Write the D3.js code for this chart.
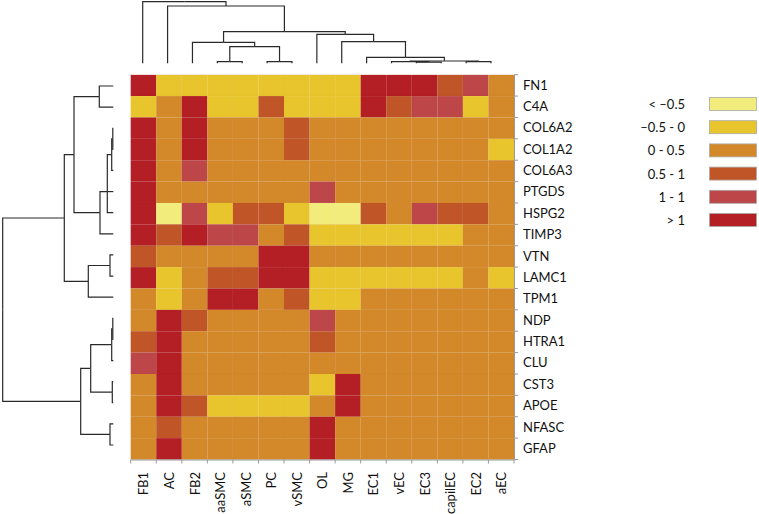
<!DOCTYPE html>
<html>
<head>
<meta charset="utf-8">
<script src="https://cdn.jsdelivr.net/npm/d3@7"></script>
<style>
  html, body { margin: 0; padding: 0; background: #fff; }
  svg { display: block; }
  text { font-family: Lato, "Open Sans", sans-serif; fill: #111; }
</style>
</head>
<body>
<div id="chart"></div>
<script>
// ---------- data ----------
const columns = ["FB1","AC","FB2","aaSMC","aSMC","PC","vSMC","OL","MG","EC1","vEC","EC3","capilEC","EC2","aEC"];
const genes = ["FN1","C4A","COL6A2","COL1A2","COL6A3","PTGDS","HSPG2","TIMP3","VTN","LAMC1","TPM1","NDP","HTRA1","CLU","CST3","APOE","NFASC","GFAP"];
const legendLabels = ["< \u20130.5", "\u20130.5 - 0", "0 - 0.5", "0.5 - 1", "1 - 1", "> 1"];
const legendColors = ["#f1ec7c", "#e8c52c", "#d3892a", "#c05627", "#bd4649", "#b31f25"];
// category index (0..5) per gene row, per column
const levels = [
  [5,1,1,1,1,1,1,1,1,5,5,5,3,4,2], // FN1
  [1,2,5,1,1,3,1,1,1,5,3,4,4,1,2], // C4A
  [5,2,5,2,2,2,3,2,2,2,2,2,2,2,2], // COL6A2
  [5,2,5,2,2,2,3,2,2,2,2,2,2,2,1], // COL1A2
  [5,2,4,2,2,2,2,2,2,2,2,2,2,2,2], // COL6A3
  [5,2,2,2,2,2,2,4,2,2,2,2,2,2,2], // PTGDS
  [5,0,4,1,3,3,1,0,0,3,2,4,3,3,2], // HSPG2
  [5,3,5,4,4,2,3,1,1,1,1,1,1,2,2], // TIMP3
  [3,2,2,2,2,5,5,2,2,2,2,2,2,2,2], // VTN
  [5,1,2,3,3,5,5,1,1,1,1,1,1,2,1], // LAMC1
  [2,1,2,5,5,2,3,1,1,2,2,2,2,2,2], // TPM1
  [2,5,3,2,2,2,2,4,2,2,2,2,2,2,2], // NDP
  [3,5,2,2,2,2,2,3,2,2,2,2,2,2,2], // HTRA1
  [4,5,2,2,2,2,2,2,2,2,2,2,2,2,2], // CLU
  [2,5,2,2,2,2,2,1,5,2,2,2,2,2,2], // CST3
  [2,5,3,1,1,1,1,2,5,2,2,2,2,2,2], // APOE
  [2,3,2,2,2,2,2,5,2,2,2,2,2,2,2], // NFASC
  [2,5,2,2,2,2,2,5,2,2,2,2,2,2,2]  // GFAP
];
// dendrograms: merge heights
const colTree = {h:61.6, c:["FB1", {h:57.3, c:["AC", {h:31.6, c:[
  {h:21, c:["FB2", {h:16.6, c:[{h:1.6, c:["aaSMC","aSMC"]}, {h:1.6, c:["PC","vSMC"]}]}]},
  {h:29, c:["OL", {h:21.6, c:["MG", {h:6, c:["EC1", {h:2.3, c:[
     {h:1.6, c:["vEC", {h:1.2, c:["EC3","capilEC"]}]},
     {h:1.6, c:["EC2","aEC"]}]}]}]}]}
]}]}]};
const rowTree = {h:110.6, c:[
  {h:49, c:[
    {h:39.3, c:[
      {h:14, c:["FN1","C4A"]},
      {h:13.3, c:[
        {h:6, c:[{h:1.6, c:[{h:0.5, c:["COL6A2","COL1A2"]}, "COL6A3"]}, "PTGDS", "HSPG2"]},
        "TIMP3"]}
    ]},
    {h:25, c:[{h:3.3, c:["VTN","LAMC1"]}, "TPM1"]}
  ]},
  {h:32.6, c:[
    {h:22.6, c:[
      {h:1.6, c:[{h:0.5, c:["NDP","HTRA1"]}, "CLU"]},
      {h:1, c:["CST3","APOE"]}
    ]},
    {h:3.3, c:["NFASC","GFAP"]}
  ]}
]};

// ---------- layout ----------
const W = 759, H = 514;
const svg = d3.select("#chart").append("svg").attr("width", W).attr("height", H);

const x = d3.scaleBand().domain(columns).range([130.7, 514]);
const y = d3.scaleBand().domain(genes).range([74.7, 459.5]);
const color = d3.scaleOrdinal().domain(d3.range(6)).range(legendColors);
const FS = 13;

// heatmap cells
const cells = [];
levels.forEach((row, i) => row.forEach((v, j) => cells.push({g: genes[i], c: columns[j], v})));
svg.append("g").selectAll("rect").data(cells).join("rect")
  .attr("x", d => x(d.c)).attr("y", d => y(d.g))
  .attr("width", x.bandwidth()).attr("height", y.bandwidth())
  .attr("fill", d => color(d.v))
  .attr("stroke", "rgba(0,0,0,0.025)").attr("stroke-width", 0.5);

// top faint border
svg.append("line").attr("x1", 130.7).attr("x2", 514).attr("y1", 74.4).attr("y2", 74.4)
  .attr("stroke", "#f3e6e0").attr("stroke-width", 1);

// right axis
const gR = svg.append("g").attr("transform", "translate(514,0)")
  .call(d3.axisRight(y).tickSize(0).tickPadding(9));
gR.select(".domain").attr("stroke", "#999");
gR.selectAll("text").attr("font-size", FS).attr("fill", "#111").attr("font-family", "Lato, 'Open Sans', sans-serif");
const rowEdges = genes.map(g => y(g)).concat([y.range()[1]]);
gR.selectAll(".edge").data(rowEdges).join("line").attr("class", "edge")
  .attr("x1", 0).attr("x2", 4).attr("y1", d => d).attr("y2", d => d).attr("stroke", "#999");

// bottom axis
const gB = svg.append("g").attr("transform", `translate(0,${y.range()[1]})`)
  .call(d3.axisBottom(x).tickSize(0).tickPadding(0));
gB.select(".domain").attr("stroke", "#999");
gB.selectAll("text")
  .attr("font-size", FS).attr("fill", "#111").attr("font-family", "Lato, 'Open Sans', sans-serif")
  .attr("text-anchor", "end").attr("dy", null)
  .attr("transform", "translate(0,12.5) rotate(-90)")
  .attr("dominant-baseline", "central");
const colEdges = columns.map(c => x(c)).concat([x.range()[1]]);
gB.selectAll(".edge").data(colEdges).join("line").attr("class", "edge")
  .attr("x1", d => d).attr("x2", d => d).attr("y1", 0).attr("y2", 4).attr("stroke", "#999");

// ---------- dendrograms ----------
function drawTree(tree, leafPos, hScale, vertical) {
  const segs = [];
  function walk(n) {
    if (typeof n === "string") return {p: leafPos(n), h: 0};
    const kids = n.c.map(walk);
    const p = kids.length === 2 ? (kids[0].p + kids[1].p) / 2 : kids[1].p;
    kids.forEach(k => segs.push({p: k.p, h0: k.h, h1: n.h, pn: p}));
    return {p, h: n.h};
  }
  walk(tree);
  const path = d => vertical
    ? `M${d.p},${hScale(d.h0)}V${hScale(d.h1)}H${d.pn}`
    : `M${hScale(d.h0)},${d.p}H${hScale(d.h1)}V${d.pn}`;
  svg.append("g").selectAll("path").data(segs).join("path")
    .attr("d", path).attr("fill", "none").attr("stroke", "#2a2a2a").attr("stroke-width", 1.2);
}
const colLeaf = d3.scalePoint().domain(columns).range([142.7, 491]);
const colH = d3.scaleLinear().domain([0, 61.6]).range([63.3, 1.7]);
drawTree(colTree, c => colLeaf(c), colH, true);

const rowLeaf = d3.scalePoint().domain(genes).range([86, 445]);
const rowH = d3.scaleLinear().domain([0, 110.6]).range([113.3, 2.7]);
drawTree(rowTree, g => rowLeaf(g), rowH, false);

// ---------- legend ----------
const lg = svg.append("g");
const ly = d3.scalePoint().domain(legendLabels).range([104, 220]);
lg.selectAll("rect").data(legendLabels).join("rect")
  .attr("x", 709.5).attr("y", d => ly(d) - 6.5).attr("width", 47).attr("height", 13)
  .attr("fill", (d, i) => legendColors[i]).attr("stroke", "#aaa").attr("stroke-width", 0.8);
lg.selectAll("text").data(legendLabels).join("text")
  .attr("x", 685).attr("y", d => ly(d)).attr("text-anchor", "end")
  .attr("dominant-baseline", "central").attr("font-size", FS)
  .text(d => d);
</script>
</body>
</html>
